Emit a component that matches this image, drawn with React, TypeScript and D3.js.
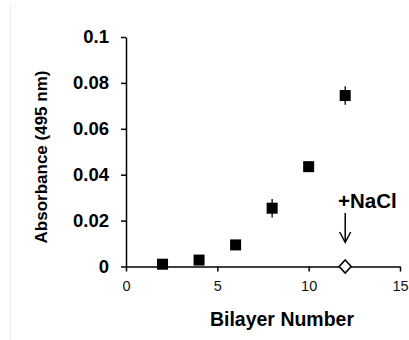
import React, { useEffect, useRef } from 'react';
import * as d3 from 'd3';

// bilayer number vs absorbance
const bilayers = [2, 4, 6, 8, 10, 12];
const absorbance = [0.001, 0.0028, 0.0094, 0.0254, 0.0435, 0.0745];
const errors = [0, 0, 0, 0.004, 0, 0.004];
const naclPoint = { x: 12, y: 0 };
const yTicks = [0, 0.02, 0.04, 0.06, 0.08, 0.1];
const xTicks = [0, 5, 10, 15];

export default function App() {
  const svgRef = useRef<SVGSVGElement>(null);
  const width = 409;
  const height = 340;

  useEffect(() => {
    if (!svgRef.current) return;
    const svg = d3.select(svgRef.current);
    svg.selectAll("*").remove();

    svg.append("rect").attr("width", width).attr("height", height).attr("fill", "#fff");
    svg.append("line").attr("x1", 10.5).attr("x2", 10.5).attr("y1", 4).attr("y2", height).attr("stroke", "#eeeeee");

    const x = d3.scaleLinear().domain([0, 15]).range([126, 400]);
    const y = d3.scaleLinear().domain([0, 0.1]).range([266.5, 37]);
    const font = "Liberation Sans, Arial, sans-serif";

    const yAxis = svg.append("g").attr("transform", `translate(${x(0)},0)`)
      .call(d3.axisLeft(y).tickValues(yTicks).tickSize(5).tickSizeOuter(0).tickPadding(12).tickFormat(d => d3.format("")(+d)));
    yAxis.select(".domain").attr("stroke", "#000").attr("stroke-width", 1.5);
    yAxis.selectAll(".tick line").attr("stroke", "#000").attr("stroke-width", 1.5);
    yAxis.selectAll("text").attr("fill", "#000").style("font-family", font).style("font-size", "18.5px").style("font-weight", "bold");

    const xAxis = svg.append("g").attr("transform", `translate(0,${y(0)})`)
      .call(d3.axisBottom(x).tickValues(xTicks).tickSize(5).tickSizeOuter(0).tickPadding(9));
    xAxis.select(".domain").attr("stroke", "#000").attr("stroke-width", 1.5);
    xAxis.selectAll(".tick line").attr("stroke", "#000").attr("stroke-width", 1.5);
    xAxis.selectAll("text").attr("fill", "#111").style("font-family", font).style("font-size", "14.5px");

    svg.append("text").attr("transform", `translate(47,157) rotate(-90)`).attr("text-anchor", "middle")
      .style("font-family", font).style("font-size", "17px").style("font-weight", "bold").text("Absorbance (495 nm)");
    svg.append("text").attr("x", 282).attr("y", 326).attr("text-anchor", "middle")
      .style("font-family", font).style("font-size", "19.5px").style("font-weight", "bold").text("Bilayer Number");

    const pts = bilayers.map((b, i) => ({ x: b, y: absorbance[i], e: errors[i] }));
    svg.selectAll(".err").data(pts.filter(d => d.e > 0)).enter().append("line")
      .attr("x1", d => x(d.x)).attr("x2", d => x(d.x))
      .attr("y1", d => y(d.y + d.e)).attr("y2", d => y(d.y - d.e))
      .attr("stroke", "#000").attr("stroke-width", 1.3);

    const s = 11;
    svg.selectAll(".pt").data(pts).enter().append("rect")
      .attr("x", d => x(d.x) - s / 2).attr("y", d => y(d.y) - s / 2)
      .attr("width", s).attr("height", s).attr("fill", "#000");

    const dx = x(naclPoint.x), dy = y(naclPoint.y);
    svg.append("path").attr("d", `M${dx},${dy - 6.5} L${dx + 6},${dy} L${dx},${dy + 6.5} L${dx - 6},${dy} Z`)
      .attr("fill", "#fff").attr("stroke", "#000").attr("stroke-width", 1.6);

    svg.append("text").attr("x", 338).attr("y", 208)
      .style("font-family", font).style("font-size", "20.5px").style("font-weight", "bold").text("+NaCl");
    svg.append("line").attr("x1", dx).attr("x2", dx).attr("y1", 213).attr("y2", 242).attr("stroke", "#000").attr("stroke-width", 1.5);
    svg.append("path").attr("d", `M${dx - 5.5},${232} L${dx},${242.5} L${dx + 5.5},${232}`)
      .attr("fill", "none").attr("stroke", "#000").attr("stroke-width", 1.5);
  }, []);

  return <svg ref={svgRef} width={width} height={height} style={{ position: 'absolute', left: 0, top: 0 }} />;
}
